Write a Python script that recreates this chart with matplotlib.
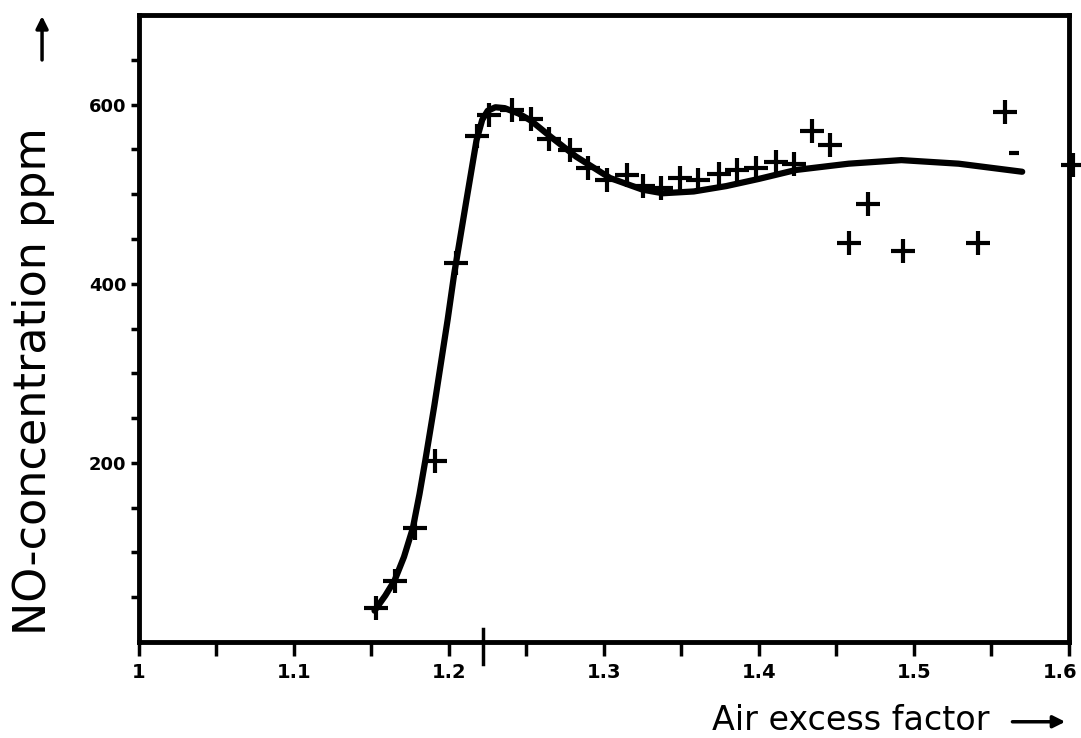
import numpy as np
import matplotlib
matplotlib.use("Agg")
import matplotlib.pyplot as plt
from matplotlib.transforms import ScaledTranslation

# fitted curve
curve_x = [1.152, 1.159, 1.165, 1.171, 1.1767, 1.181, 1.1847, 1.1906, 1.1949, 1.1992,
           1.2035, 1.211, 1.2178, 1.2215, 1.225, 1.230, 1.236, 1.245, 1.253, 1.265,
           1.282, 1.304, 1.325, 1.338, 1.358, 1.379, 1.400, 1.424, 1.458, 1.492,
           1.529, 1.570]
curve_y = [35, 52, 69, 95, 127, 165, 202, 264, 312, 360,
           412, 490, 560, 583, 593, 597, 596, 590, 582, 565,
           542, 518, 505, 501, 503, 509, 517, 527, 534, 538,
           534, 525]

# measured points (crosses)
meas_x = [1.153, 1.165, 1.178, 1.191, 1.2045, 1.218, 1.226, 1.241, 1.253, 1.2645,
          1.278, 1.290, 1.302, 1.315, 1.325, 1.337, 1.349, 1.361, 1.374, 1.386,
          1.398, 1.411, 1.423, 1.4345, 1.446, 1.4705, 1.458, 1.493, 1.5415, 1.559,
          1.6025]
meas_y = [38, 68, 127, 202, 423, 565, 588, 594, 584, 562,
          549, 529, 516, 521, 509, 507, 518, 516, 523, 527,
          529, 536, 534, 570, 555, 489, 445, 436, 445, 592,
          533]

x_major = [1.0, 1.1, 1.2, 1.3, 1.4, 1.5, 1.6]
x_labels = ["1", "1.1", "1.2", "1.3", "1.4", "1.5", "1.6"]
y_major = [200, 400, 600]

fig = plt.figure(figsize=(10.81, 7.38), dpi=100)
ax = fig.add_axes([0.1286, 0.130, 0.860, 0.8497])

ax.plot(curve_x, curve_y, color="black", lw=4.5, solid_capstyle="round",
        solid_joinstyle="round", zorder=3)
ax.plot(meas_x, meas_y, ls="none", marker="+", ms=17, mew=3, color="black",
        zorder=4, clip_on=False)
# lone dash left of the last cross
ax.plot([1.5646], [546], ls="none", marker="_", ms=7, mew=3, color="black")

ax.set_xlim(1.0, 1.6)
ax.set_ylim(0, 700)

ax.set_xticks(x_major)
ax.set_xticklabels(x_labels, fontsize=14, fontweight="bold")
ax.set_xticks(np.arange(1.05, 1.6, 0.1), minor=True)
ax.set_yticks(y_major)
ax.set_yticklabels([str(v) for v in y_major], fontsize=13, fontweight="bold")
ax.set_yticks(np.arange(50, 700, 50), minor=True)

ax.tick_params(which="both", direction="out", width=2.5, color="black")
ax.tick_params(axis="x", which="both", length=10, pad=5)
ax.tick_params(axis="y", which="both", length=6, pad=3)

# keep the last x label inside the picture
lab = ax.get_xticklabels()[-1]
lab.set_transform(lab.get_transform() + ScaledTranslation(-6 / 72, 0, fig.dpi_scale_trans))

for side in ["left", "right", "top", "bottom"]:
    ax.spines[side].set_linewidth(3.5)

# stray long tick crossing the x axis in the scan
ax.plot([1.222, 1.222], [-25, 15], color="black", lw=2.5, clip_on=False)

fig.text(0.031, 0.1396, "NO-concentration ppm", rotation=90, fontsize=32,
         ha="center", va="bottom")
fig.text(0.915, 0.011, "Air excess factor", fontsize=24, ha="right", va="baseline")

ax.annotate("", xy=(0.0389, 0.982), xytext=(0.0389, 0.915), xycoords="figure fraction",
            arrowprops=dict(arrowstyle="-|>", lw=2.5, color="black", mutation_scale=18))
ax.annotate("", xy=(0.988, 0.022), xytext=(0.934, 0.022), xycoords="figure fraction",
            arrowprops=dict(arrowstyle="-|>", lw=2.5, color="black", mutation_scale=18))

fig.savefig("out.png", dpi=100)
